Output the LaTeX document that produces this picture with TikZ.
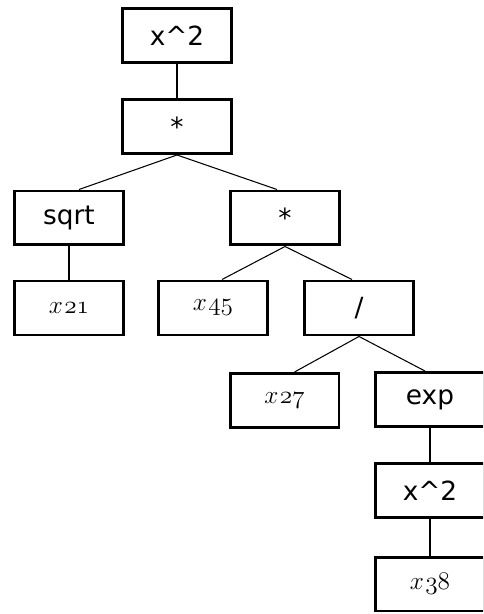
\documentclass[tikz,border=0pt]{standalone}
\usepackage{fontspec}
\setmainfont{DejaVu Sans}
\usetikzlibrary{positioning}
\newcommand{\xv}[1]{$\mathnormal{x\mkern1mu#1}$}
\tikzset{
  opbox/.style={draw=black,line width=1.7pt,minimum width=2.18cm,
    minimum height=1.08cm,inner sep=0pt,font=\fontsize{15}{17}\selectfont},
  varbox/.style={opbox,font=\fontsize{13.5}{15}\selectfont},
  link/.style={line width=0.6pt,black}
}
\begin{document}
\begin{tikzpicture}[x=0.02cm,y=-0.02cm]
  \clip (0,0) rectangle (483,614);

  % operator and variable nodes
  \node[opbox] (root) at (177,35.5) {x\^{}2};
  \node[opbox] (mulA) at (177,126.5) {*};
  \node[opbox] (sqrt) at (69,218) {sqrt};
  \node[opbox] (mulB) at (285,218) {*};
  \node[varbox] (xa) at (69,308) {\xv{21}};
  \node[varbox] (xb) at (213,308) {\xv{45}};
  \node[opbox] (div) at (359,308) {/};
  \node[varbox] (xc) at (284.5,400.5) {\xv{27}};
  \node[opbox] (expn) at (430,399.5) {exp};
  \node[opbox] (sqB) at (430,490.5) {x\^{}2};
  \node[varbox] (xd) at (430,584) {\xv{38}};

  % links
  \draw[link] (root.south) -- (mulA.north);
  \draw[link] (mulA.south) -- ([xshift=0.2cm]sqrt.north);
  \draw[link] (mulA.south) -- ([xshift=-0.16cm]mulB.north);
  \draw[link] (sqrt.south) -- (xa.north);
  \draw[link] (mulB.south) -- ([xshift=0.18cm]xb.north);
  \draw[link] (mulB.south) -- ([xshift=-0.14cm]div.north);
  \draw[link] (div.south) -- ([xshift=0.2cm]xc.north);
  \draw[link] (div.south) -- ([xshift=-0.1cm]expn.north);
  \draw[link] (expn.south) -- (sqB.north);
  \draw[link] (sqB.south) -- (xd.north);
\end{tikzpicture}
\end{document}
